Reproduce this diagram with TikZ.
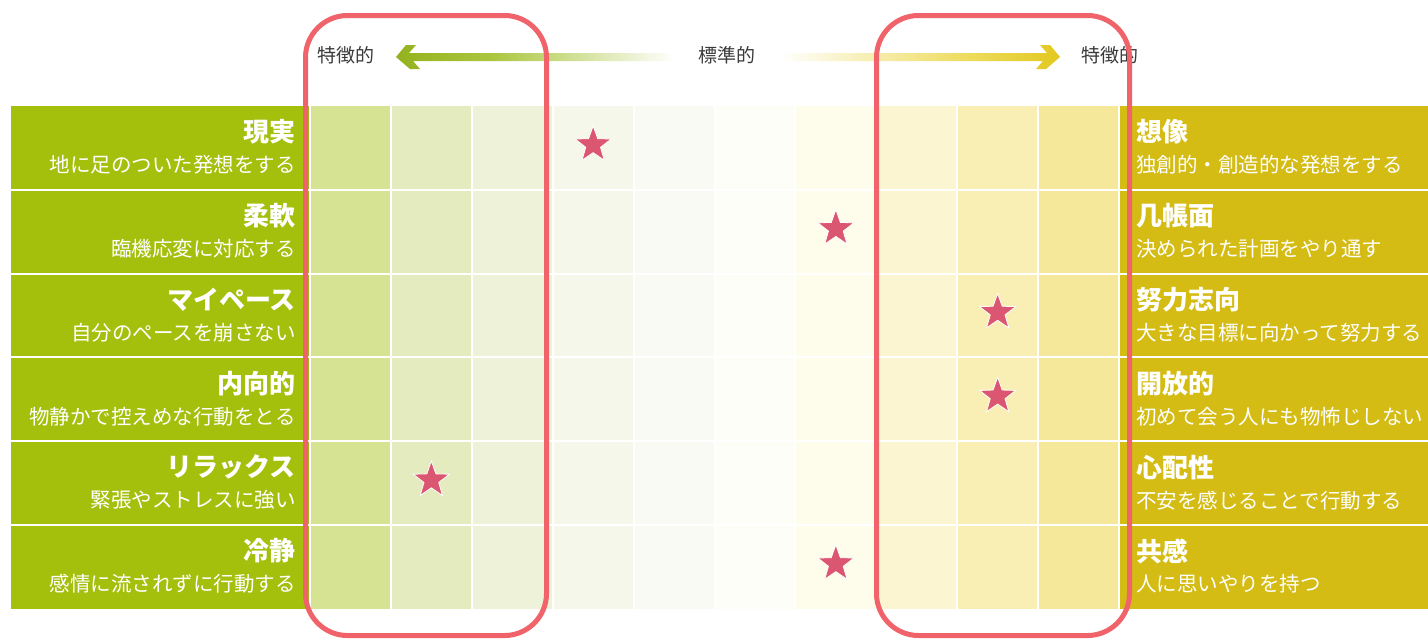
\documentclass[tikz,border=0pt]{standalone}
\usepackage{fontspec}
\setmainfont{Noto Sans CJK JP}
\usetikzlibrary{shapes.geometric,calc}
\definecolor{gpanel}{HTML}{A4C00C}
\definecolor{ypanel}{HTML}{D4BC14}
\definecolor{c1}{HTML}{D6E393}
\definecolor{c2}{HTML}{E3EBBF}
\definecolor{c3}{HTML}{EDF2D8}
\definecolor{c4}{HTML}{F4F7E9}
\definecolor{c5}{HTML}{F9FAF3}
\definecolor{c6}{HTML}{FEFEF8}
\definecolor{c7}{HTML}{FEFCEB}
\definecolor{c8}{HTML}{FCF5D2}
\definecolor{c9}{HTML}{F9EFB5}
\definecolor{c10}{HTML}{F6E89A}
\definecolor{redbox}{HTML}{F0636A}
\definecolor{starc}{HTML}{DB5670}
\definecolor{hdr}{HTML}{3A3A3A}
\definecolor{ga}{HTML}{94B21E}
\definecolor{gb}{HTML}{AAC63E}
\definecolor{ya}{HTML}{E2C81E}
\definecolor{yb}{HTML}{EEDC60}
\pgfdeclarehorizontalshading{gfade}{100bp}{color(0bp)=(ga); color(25bp)=(ga); color(42bp)=(gb); color(75bp)=(white); color(100bp)=(white)}
\pgfdeclarehorizontalshading{yfade}{100bp}{color(0bp)=(white); color(25bp)=(white); color(58bp)=(yb); color(75bp)=(ya); color(100bp)=(ya)}
\tikzset{
  ttl/.style={font=\fontsize{26}{26}\selectfont\bfseries, text=white, inner sep=0pt},
  sub/.style={font=\fontsize{20.5}{20.5}\selectfont, text=white, inner sep=0pt},
  hd/.style={font=\fontsize{19}{19}\selectfont, text=hdr, inner sep=0pt},
  starmark/.style={star, star points=5, star point ratio=2.45, fill=starc, draw=white, line width=0.8pt, minimum size=38pt, inner sep=0pt},
  hl/.style={draw=redbox, line width=5pt, rounded corners=42pt},
  sep/.style={draw=white, line width=2pt}
}
\begin{document}
\begin{tikzpicture}[x=1pt, y=-1pt]
\useasboundingbox (0,0) rectangle (1428,641);
\fill[white] (0,0) rectangle (1428,641);
% panels
\fill[gpanel] (11,106) rectangle (310,609);
\fill[ypanel] (1119,106) rectangle (1428,609);
% grid columns
\foreach \c in {1,...,10} {
  \fill[c\c] ({310+80.9*(\c-1)},106) rectangle ({310+80.9*\c},609);
}
\foreach \k in {0,...,10} {
  \draw[sep] ({310+80.9*\k},106) -- ({310+80.9*\k},609);
}
\foreach \k in {1,...,5} {
  \draw[sep] (11,{106+83.8*\k}) -- (1428,{106+83.8*\k});
}
% labels
\foreach \i/\t/\s/\tt/\ss in {
  0/現実/地に足のついた発想をする/想像/独創的・創造的な発想をする,
  1/柔軟/臨機応変に対応する/几帳面/決められた計画をやり通す,
  2/マイペース/自分のペースを崩さない/努力志向/大きな目標に向かって努力する,
  3/内向的/物静かで控えめな行動をとる/開放的/初めて会う人にも物怖じしない,
  4/リラックス/緊張やストレスに強い/心配性/不安を感じることで行動する,
  5/冷静/感情に流されずに行動する/共感/人に思いやりを持つ} {
  \pgfmathsetmacro\ty{106+83.8*\i}
  \node[ttl, anchor=east] (lt\i) at (296,{\ty+26}) {\t};
  \node[sub, anchor=east] (ls\i) at (296,{\ty+59}) {\s};
  \node[ttl, anchor=west] (rt\i) at (1136,{\ty+26}) {\tt};
  \node[sub, anchor=west] (rs\i) at (1136,{\ty+59}) {\ss};
}
% stars
\foreach \r/\c in {1/4, 2/7, 3/9, 4/9, 5/2, 6/7} {
  \node[starmark] (st\r) at ({310+80.9*(\c-0.5)},{106+83.8*(\r-0.5)-3}) {};
}
% header
\node[hd] (lfeat) at (346,55) {特徴的};
\node[hd] (std) at (727,55) {標準的};
\node[hd] (rfeat) at (1110,55) {特徴的};
\coordinate (lhead) at (396,57);
\coordinate (ltail) at (675,57);
\coordinate (rhead) at (1060,57);
\coordinate (rtail) at (780,57);
\shade[shading=gfade] (lhead) -- ++(10,-12) -- ++(10,0) -- ++(-7,8) -- ($(ltail)+(0,-4)$) -- ++(0,8) -- ($(lhead)+(17,4)$) -- ++(7,8) -- ++(-10,0) -- cycle;
\shade[shading=yfade] (rhead) -- ++(-10,-12) -- ++(-10,0) -- ++(7,8) -- ($(rtail)+(0,-4)$) -- ++(0,8) -- ($(rhead)+(-17,4)$) -- ++(-7,8) -- ++(10,0) -- cycle;
% highlight boxes
\draw[hl] (305.5,15.5) rectangle (546.5,635.5);
\draw[hl] (876.5,15.5) rectangle (1129.5,635.5);
\end{tikzpicture}
\end{document}
